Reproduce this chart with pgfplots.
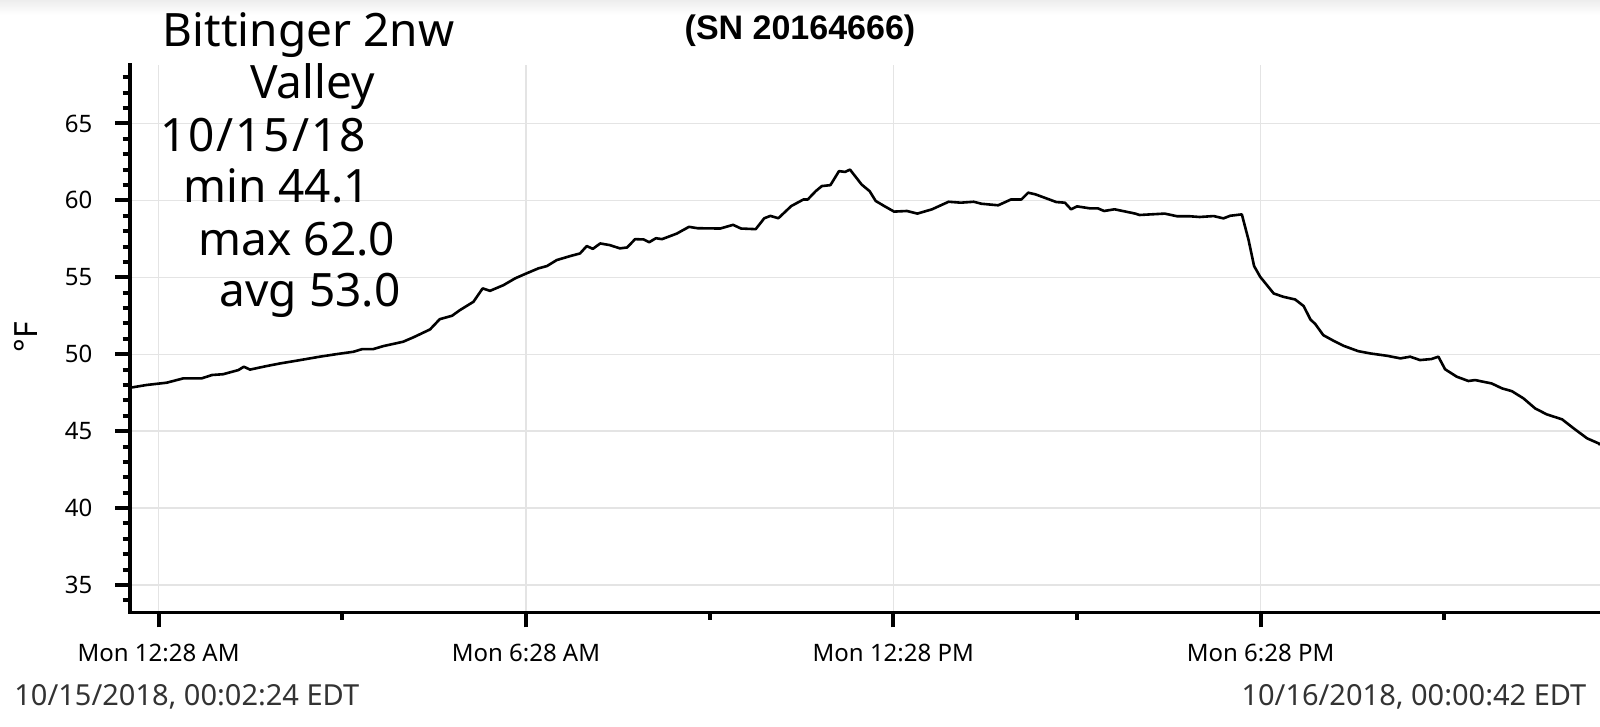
\documentclass[border=0pt]{standalone}
\usepackage{fontspec}
\setmainfont{Noto Sans}
\newfontfamily\snfont{Liberation Sans}[Scale=1.0]
\usepackage{pgfplots}
\pgfplotsset{compat=1.18}
\definecolor{gridgray}{HTML}{E4E4E4}
\definecolor{labgray}{HTML}{333333}
\begin{document}
\begin{tikzpicture}
\useasboundingbox (-65pt,-57.15pt) rectangle (735pt,306.35pt);
\shade[top color=black!7, bottom color=white] (-65pt,299pt) rectangle (735pt,306.35pt);
\begin{axis}[
  at={(0,0)}, anchor=south west,
  scale only axis, width=735pt, height=273.85pt,
  xmin=0, xmax=24.01, ymin=33.2, ymax=68.8,
  axis x line*=bottom, axis y line*=left,
  axis line style={line width=1.8pt, -, line cap=rect},
  xtick={0.4667,6.4667,12.4667,18.4667},
  xticklabels={Mon 12:28 AM, Mon 6:28 AM, Mon 12:28 PM, Mon 6:28 PM},
  minor xtick={3.4667,9.4667,15.4667,21.4667},
  ytick={35,40,45,50,55,60,65},
  minor ytick={34,36,37,38,39,41,42,43,44,46,47,48,49,51,52,53,54,56,57,58,59,61,62,63,64,66,67,68},
  tick align=outside,
  major tick length=7.3pt, minor tick length=3.65pt,
  tick style={line width=2pt, black},
  minor grid style={draw=none},
  xmajorgrids, ymajorgrids,
  major grid style={line width=0.7pt, color=gridgray},
  /pgf/number format/assume math mode=true,
  tick label style={font=\fontsize{12}{14}\selectfont},
  xticklabel style={yshift=-5pt},
  yticklabel style={xshift=-8pt},
]
\addplot[black, line width=1.3pt, line join=round] coordinates {
(0.00,47.82) (0.27,48.00) (0.60,48.15) (0.87,48.43) (1.17,48.43) (1.34,48.65)
(1.52,48.70) (1.77,48.97) (1.86,49.19) (1.96,49.00) (2.23,49.23) (2.45,49.40)
(2.78,49.62) (3.10,49.84) (3.38,50.01) (3.65,50.16) (3.79,50.33) (3.97,50.33)
(4.14,50.53) (4.46,50.81) (4.63,51.10) (4.90,51.61) (5.06,52.28) (5.26,52.50)
(5.39,52.87) (5.61,53.41) (5.76,54.28) (5.88,54.12) (6.10,54.49) (6.29,54.93)
(6.45,55.21) (6.67,55.58) (6.81,55.73) (6.97,56.12) (7.19,56.38) (7.35,56.55)
(7.46,57.03) (7.56,56.85) (7.68,57.20) (7.84,57.09) (8.00,56.88) (8.12,56.94)
(8.25,57.48) (8.39,57.46) (8.48,57.28) (8.59,57.54) (8.69,57.48) (8.93,57.84)
(9.13,58.28) (9.27,58.19) (9.64,58.17) (9.85,58.41) (9.98,58.17) (10.22,58.13)
(10.36,58.84) (10.46,58.99) (10.59,58.84) (10.80,59.63) (11.00,60.06) (11.07,60.06)
(11.20,60.60) (11.30,60.93) (11.44,60.99) (11.58,61.90) (11.68,61.85) (11.76,62.00)
(11.95,61.03) (12.08,60.60) (12.18,59.96) (12.32,59.63) (12.48,59.27) (12.69,59.31)
(12.86,59.14) (13.10,59.42) (13.37,59.91) (13.57,59.85) (13.78,59.91) (13.91,59.78)
(14.18,59.68) (14.39,60.06) (14.56,60.06) (14.67,60.50) (14.79,60.39) (15.13,59.89)
(15.27,59.85) (15.37,59.42) (15.47,59.61) (15.68,59.48) (15.81,59.48) (15.91,59.31)
(16.08,59.42) (16.42,59.14) (16.49,59.05) (16.90,59.14) (17.10,58.97) (17.30,58.97)
(17.47,58.92) (17.70,58.98) (17.86,58.83) (17.97,59.00) (18.16,59.09) (18.27,57.42)
(18.36,55.73) (18.46,55.03) (18.68,53.95) (18.84,53.73) (19.03,53.56) (19.17,53.13)
(19.28,52.26) (19.36,51.96) (19.49,51.24) (19.66,50.87) (19.82,50.55) (20.06,50.20)
(20.26,50.05) (20.53,49.90) (20.75,49.73) (20.91,49.84) (21.07,49.62) (21.26,49.69)
(21.37,49.84) (21.48,49.02) (21.67,48.54) (21.86,48.26) (21.97,48.32) (22.24,48.10)
(22.41,47.78) (22.57,47.60) (22.76,47.13) (22.95,46.48) (23.14,46.09) (23.39,45.77)
(23.58,45.18) (23.80,44.53) (23.99,44.20) (24.01,44.10)
};
\end{axis}
\begin{scope}[every node/.style={inner sep=0pt, anchor=base}, font=\fontsize{23}{27}\selectfont]
\node at (89.25pt,283pt) {Bittinger 2nw};
\node at (91.25pt,257.2pt) {Valley};
\node at (66.5pt,230.5pt) {\addfontfeature{LetterSpace=4}10/15/18};
\node at (73.25pt,205pt) {min 44.1};
\node at (83.5pt,178.35pt) {max 62.0};
\node at (90pt,153pt) {avg 53.0};
\end{scope}
\node[inner sep=0pt, anchor=base, font=\fontsize{17}{20}\selectfont\snfont\bfseries] at (335pt,286.7pt) {(SN 20164666)};
\node[inner sep=0pt, rotate=90, font=\fontsize{16}{19}\selectfont] at (-52pt,137.85pt) {°F};
\node[inner sep=0pt, anchor=base west, text=labgray, font=\fontsize{14.5}{17}\selectfont] at (-58pt,-46.65pt) {10/15/2018, 00:02:24 EDT};
\node[inner sep=0pt, anchor=base east, text=labgray, font=\fontsize{14.5}{17}\selectfont] at (728.35pt,-46.65pt) {10/16/2018, 00:00:42 EDT};
\end{tikzpicture}
\end{document}
